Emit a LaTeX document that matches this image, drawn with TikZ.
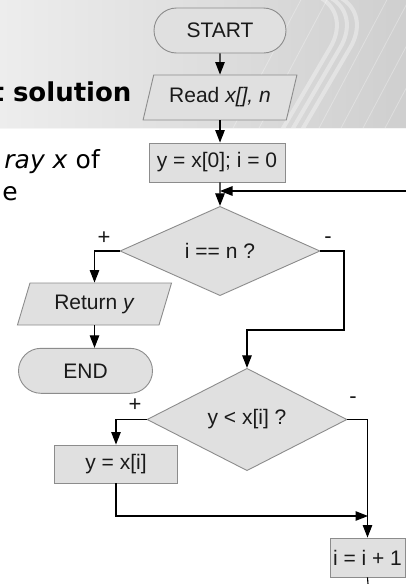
\documentclass[tikz,border=0pt]{standalone}
\usepackage{fontspec}
\setmainfont{Liberation Sans}
\newfontfamily\verd{DejaVu Sans}
\usetikzlibrary{arrows.meta,shapes.geometric,shapes.misc}

\definecolor{boxfill}{HTML}{E0E0E0}
\definecolor{edgegray}{HTML}{8C8C8C}
\definecolor{ink}{HTML}{1A1A1A}
\definecolor{hdrL}{HTML}{EDEDED}
\definecolor{hdrR}{HTML}{CFCFCF}

\begin{document}
\begin{tikzpicture}[x=1pt,y=-1pt,
  flow/.style={draw=black, line width=1.1pt, -{Triangle[length=12.5pt,width=9.5pt]}},
  wire/.style={draw=black, line width=1.1pt},
  shapebase/.style={draw=edgegray, line width=0.9pt, fill=boxfill, text=ink,
    font=\fontsize{21}{25}\selectfont, inner sep=1pt},
  term/.style={shapebase, rounded rectangle, minimum height=45pt},
  procbox/.style={shapebase, rectangle, minimum height=39pt},
  iobox/.style={shapebase, trapezium, trapezium left angle=69,
    trapezium right angle=111, trapezium stretches=true, minimum height=45pt},
  test/.style={shapebase, diamond, minimum width=200pt, minimum height=76pt},
  sign/.style={font=\fontsize{22}{24}\selectfont, text=ink, inner sep=0pt},
  slidetext/.style={anchor=base east, inner sep=0pt, text=black}]

\useasboundingbox (0,0) rectangle (406,584);
\clip (0,0) rectangle (406,584);
\fill[white] (0,0) rectangle (406,584);

% slide header band with its swoosh decoration
\shade[left color=hdrL, right color=hdrR] (0,0) rectangle (406,128);
\begin{scope}[white, opacity=0.35, line width=4pt]
  \draw (321,-2) .. controls (338,8) and (342,28) .. (330,48) -- (282,130);
  \draw (331,-2) .. controls (348,8) and (352,28) .. (340,48) -- (292,130);
  \draw (341,-2) .. controls (358,8) and (362,28) .. (350,48) -- (302,130);
\end{scope}
\begin{scope}[white, opacity=0.3, line width=0.8pt]
  \foreach \s in {232,258,318,340,362,384}
    \draw (\s,130) -- (\s+72,-6);
\end{scope}
\draw[white!92!gray, line width=1.5pt] (0,128.5) -- (406,128.5);

% slide text behind the chart
\node[slidetext, font=\verd\bfseries\fontsize{26}{30}\selectfont] (title) at (131.7,101.7) {t solution};
\node[slidetext, font=\verd\fontsize{25}{30}\selectfont] (line1) at (100,168) {\textit{ray x} of};
\node[slidetext, font=\verd\fontsize{25}{30}\selectfont] (line2) at (18,200) {e};

% flowchart blocks
\node[term, minimum width=134pt] (start) at (220,30.5) {START};
\node[iobox, minimum width=154pt] (read) at (220,97.5) {Read \textit{x[], n}};
\node[procbox, minimum width=136pt] (init) at (217,162.5) {y = x[0]; i = 0};
\node[test] (d1) at (220,251) {i == n ?};
\node[iobox, minimum width=155pt, minimum height=42pt] (ret) at (94.5,304) {Return \textit{y}};
\node[term, minimum width=136pt] (end) at (85.5,370.8) {END};
\node[test, minimum height=77pt] (d2) at (247,419.5) {y < x[i] ?};
\node[procbox, minimum width=123pt, minimum height=38pt] (yx) at (116,464) {y = x[i]};
\node[procbox, minimum width=75pt] (inc) at (367.5,557.5) {i = i + 1};

% branch signs
\node[sign] (p1) at (104,238) {+};
\node[sign] (m1) at (328,240) {-};
\node[sign] (p2) at (135,405) {+};
\node[sign] (m2) at (353,400) {-};

% helper points
\coordinate (loopin) at (406,191);
\coordinate (join) at (220,191);
\coordinate (r2) at (344,330);
\coordinate (merge) at (368,516);
\coordinate (out) at (368,584);

% connectors
\draw[flow] (start.south) -- (read.north);
\draw[flow] (read.south) -- (read.south |- init.north);
\draw[flow] (read.south |- init.south) -- (d1.north);
\draw[flow] (loopin) -- (join);
\draw[flow] (d1.west) -| (ret.north);
\draw[flow] (ret.south) -- (ret.south |- end.north);
\draw[flow] (d1.east) -| (r2) -| (d2.north);
\draw[flow] (d2.west) -| (yx.north);
\draw[flow] (yx.south) |- (merge);
\draw[flow] (d2.east) -| (inc.north);
\draw[wire] (inc.south) -- (out);
\end{tikzpicture}
\end{document}
